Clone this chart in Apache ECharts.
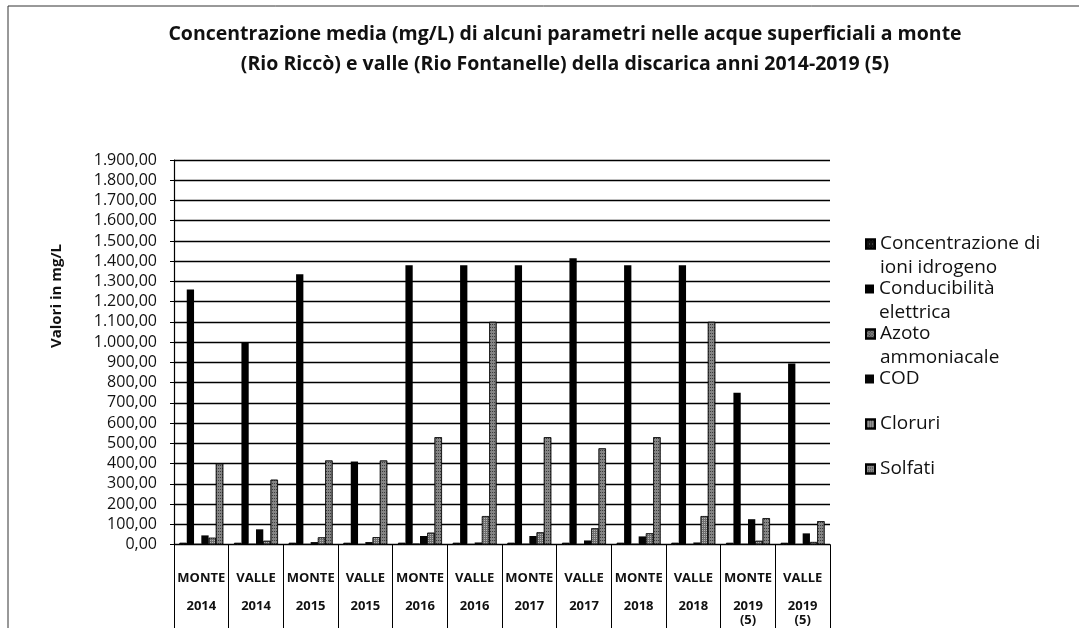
<!DOCTYPE html>
<html>
<head>
<meta charset="utf-8">
<script src="https://cdn.jsdelivr.net/npm/echarts@6/dist/echarts.min.js"></script>
<style>
html,body{margin:0;padding:0;background:#fff;}
#chart{width:1079px;height:628px;}
</style>
</head>
<body>
<div id="chart"></div>
<script>
// ---- data ----
const stations = ['MONTE','VALLE','MONTE','VALLE','MONTE','VALLE','MONTE','VALLE','MONTE','VALLE','MONTE','VALLE'];
const years = ['2014','2014','2015','2015','2016','2016','2017','2017','2018','2018','2019\n(5)','2019\n(5)'];
const seriesNames = ['Concentrazione di ioni idrogeno','Conducibilità elettrica','Azoto ammoniacale','COD','Cloruri','Solfati'];
const legendLabels = ['Concentrazione di\nioni idrogeno','Conducibilità\nelettrica','Azoto\nammoniacale','COD','Cloruri','Solfati'];
const ph = [7.9, 7.8, 7.9, 7.8, 8.0, 7.9, 8.0, 7.9, 8.0, 7.9, 7.8, 7.7];
const conducibilita = [1260, 1000, 1335, 410, 1380, 1380, 1380, 1415, 1380, 1380, 750, 895];
const azoto = [1.5, 2, 1, 1, 3, 1, 2, 1, 2, 1, 1.5, 1];
const cod = [45, 75, 12, 12, 42, 10, 42, 20, 40, 10, 125, 55];
const cloruri = [33, 18, 35, 36, 58, 140, 60, 80, 55, 140, 18, 12];
const solfati = [400, 320, 415, 415, 530, 1100, 530, 475, 530, 1100, 130, 115];
const yTicks = {min: 0, max: 1900, interval: 100};

const categories = stations.map((s, i) => s + '\n\n' + years[i]);
const values = [ph, conducibilita, azoto, cod, cloruri, solfati];

const FONT = 'Open Sans';
const fmt = v => {
  const s = v.toFixed(2).split('.');
  return s[0].replace(/\B(?=(\d{3})+(?!\d))/g, '.') + ',' + s[1];
};

const styles = [
  {color: '#111', decal: {symbol: 'rect', symbolSize: 1, color: 'rgba(255,255,255,0.35)', dashArrayX: [1, 2], dashArrayY: [1, 3], rotation: 0}},
  {color: '#000', decal: null},
  {color: '#7c7c7c', decal: {symbol: 'rect', symbolSize: 1, color: 'rgba(0,0,0,0.6)', dashArrayX: [1, 1], dashArrayY: [1, 1], rotation: 0.7}},
  {color: '#050505', decal: null},
  {color: '#6e6e6e', decal: {symbol: 'rect', symbolSize: 1, color: 'rgba(255,255,255,0.5)', dashArrayX: [1, 1], dashArrayY: [1, 1], rotation: 0}},
  {color: '#858585', decal: {symbol: 'rect', symbolSize: 1, color: 'rgba(0,0,0,0.55)', dashArrayX: [1, 1], dashArrayY: [1, 2], rotation: 0}}
];

const series = seriesNames.map((n, i) => ({
  name: n,
  type: 'bar',
  data: values[i],
  barGap: '0%',
  barCategoryGap: '20%',
  itemStyle: {color: styles[i].color, borderColor: '#000', borderWidth: i === 1 || i === 3 ? 0 : 0.6, decal: styles[i].decal || undefined},
  emphasis: {disabled: true}
}));

const LH = 24;
const iconYs = [244, 289, 334, 379, 424, 469];
const legends = seriesNames.map((n, i) => {
  const two = legendLabels[i].indexOf('\n') >= 0;
  return {
    show: true,
    orient: 'vertical',
    left: 865,
    top: two ? iconYs[i] - 1.5 * LH : iconYs[i] - 0.5 * LH,
    padding: 0,
    icon: 'rect',
    itemWidth: 9,
    itemHeight: 9,
    itemGap: 0,
    selectedMode: false,
    data: [n],
    formatter: () => two ? ' \n' + legendLabels[i] : legendLabels[i],
    textStyle: {fontFamily: FONT, fontSize: 19, color: '#111', lineHeight: LH}
  };
});

const chart = echarts.init(document.getElementById('chart'), null, {renderer: 'canvas'});
chart.setOption({
  backgroundColor: '#fff',
  animation: false,
  aria: {enabled: false},
  title: {
    text: 'Concentrazione media (mg/L) di alcuni parametri nelle acque superficiali a monte\n(Rio Riccò) e valle (Rio Fontanelle) della discarica anni 2014-2019 (5)',
    left: 565, top: 19, padding: 0, textAlign: 'center',
    textStyle: {fontFamily: FONT, fontSize: 19.5, fontWeight: 'bold', color: '#111', lineHeight: 30}
  },
  legend: legends,
  grid: {left: 174, right: 249, top: 160, bottom: 83.5, containLabel: false},
  xAxis: {
    type: 'category',
    data: categories,
    axisLine: {show: true, lineStyle: {color: '#000', width: 1.2}},
    axisTick: {show: true, interval: 0, length: 84, lineStyle: {color: '#000', width: 1}},
    axisLabel: {interval: 0, margin: 27, fontFamily: FONT, fontSize: 13, fontWeight: 'bold', color: '#111', lineHeight: 14}
  },
  yAxis: {
    type: 'value',
    min: yTicks.min, max: yTicks.max, interval: yTicks.interval,
    axisLine: {show: true, lineStyle: {color: '#000', width: 1.2}},
    axisTick: {show: true, length: 4, lineStyle: {color: '#000'}},
    splitLine: {show: true, lineStyle: {color: '#000', width: 1.3}},
    axisLabel: {formatter: fmt, margin: 17, fontFamily: FONT, fontSize: 16, color: '#111'}
  },
  graphic: [
    {type: 'polyline', shape: {points: [[8, 628], [8, 6], [1079, 6]]}, style: {stroke: '#333', lineWidth: 1, fill: null}, silent: true},
    {type: 'text', x: 57, y: 296, rotation: Math.PI / 2, style: {text: 'Valori in mg/L', fontFamily: FONT, fontSize: 15, fontWeight: 'bold', fill: '#111', align: 'center', verticalAlign: 'middle'}, silent: true}
  ],
  series: series
});
</script>
</body>
</html>
